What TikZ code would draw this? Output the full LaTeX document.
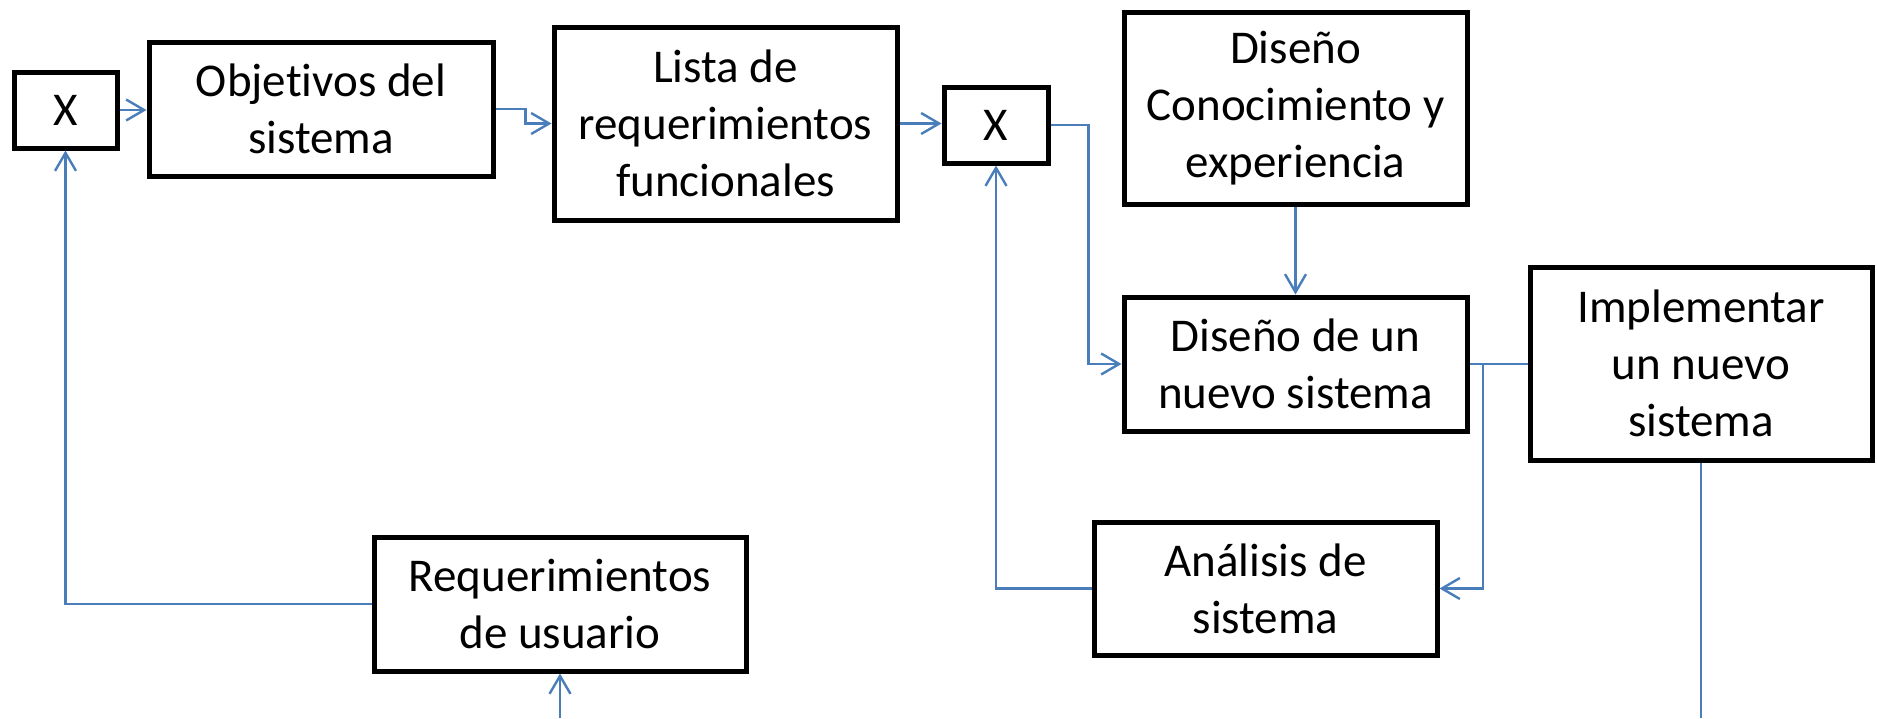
\documentclass[tikz,border=0pt]{standalone}
\usepackage{fontspec}
\setmainfont{Carlito}[Ligatures={NoCommon}]
\usetikzlibrary{arrows.meta}
\definecolor{conncol}{HTML}{4A7EBB}
\tikzset{
  box/.style={draw=black, line width=2.5pt, align=center, inner sep=0pt,
    font=\fontsize{23.5pt}{28.5pt}\selectfont, text=black},
  conn/.style={draw=conncol, line width=1.4pt},
  arr/.style={conn, -{Straight Barb[length=9pt,width=10.5pt,line width=1.2pt]}}
}
\begin{document}
\begin{tikzpicture}[x=0.5pt,y=-0.5pt]
\useasboundingbox (0,0) rectangle (1877,718);
% boxes
\node[box, minimum width=51.5pt, minimum height=38pt] (x1) at (65.5,110) {X};
\node[box, minimum width=172pt, minimum height=67pt] (obj) at (321,109) {Objetivos del\\sistema};
\node[box, minimum width=171.5pt, minimum height=96.5pt] (lista) at (725.5,123.5) {Lista de\\requerimientos\\funcionales};
\node[box, minimum width=52pt, minimum height=38pt] (x2) at (996,125) {X};
\node[box, minimum width=171.5pt, minimum height=96pt] (conoc) at (1295.5,108) {Diseño\\Conocimiento y\\experiencia};
\node[box, minimum width=171.5pt, minimum height=67pt] (nuevo) at (1295.5,364) {Diseño de un\\nuevo sistema};
\node[box, minimum width=171pt, minimum height=96.5pt] (impl) at (1701,363.5) {Implementar\\un nuevo\\sistema};
\node[box, minimum width=171.5pt, minimum height=66.5pt] (anal) at (1265.5,588.5) {Análisis de\\sistema};
\node[box, minimum width=186pt, minimum height=67pt] (req) at (560,604) {Requerimientos\\de usuario};
% free ends
\coordinate (br) at (1483,363);
\coordinate (reqin) at (560,718);
\coordinate (implout) at (1701,718);
% connectors
\draw[arr] (x1.east) -- (x1.east -| obj.west);
\draw[arr] (obj.east) -- ++(30,0) |- (lista.west);
\draw[arr] (lista.east) -- (lista.east -| x2.west);
\draw[arr] (x2.east) -- ++(38,0) |- (nuevo.west);
\draw[arr] (conoc.south) -- (nuevo.north);
\draw[conn] (nuevo.east) -- (nuevo.east -| impl.west);
\draw[arr] (br) |- (anal.east);
\draw[arr] (anal.west) -| (x2.south);
\draw[arr] (req.west) -| (x1.south);
\draw[arr] (reqin) -- (req.south);
\draw[conn] (impl.south) -- (implout);
\end{tikzpicture}
\end{document}
